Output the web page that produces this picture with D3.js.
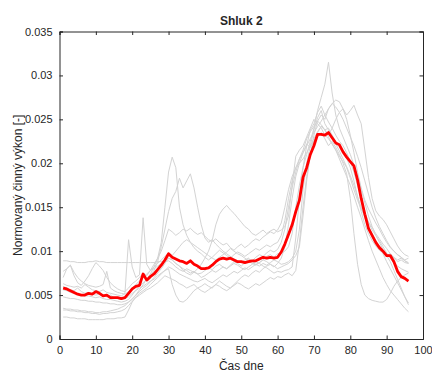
<!DOCTYPE html>
<html>
<head>
<meta charset="utf-8">
<script src="https://cdn.jsdelivr.net/npm/d3@7"></script>
<style>
  html, body { margin: 0; padding: 0; background: #fff; }
  svg { display: block; }
  text { font-family: "Liberation Sans", Arial, Helvetica, sans-serif; fill: #262626; }
</style>
</head>
<body>
<svg id="chart" width="432" height="374"></svg>
<script>
// Axis ticks
const xTicks = [0, 10, 20, 30, 40, 50, 60, 70, 80, 90, 100];
const yTicks = [0, 0.005, 0.01, 0.015, 0.02, 0.025, 0.03, 0.035];
const yTickLabels = ["0", "0.005", "0.01", "0.015", "0.02", "0.025", "0.03", "0.035"];

// Individual daily profiles in the cluster (96 quarter-hour samples each)
const day1 = [0.0089,0.0089,0.0088,0.0088,0.0087,0.0087,0.0087,0.0088,0.0088,0.0089,0.0088,0.0088,0.0087,0.0087,0.0087,0.0087,0.0087,0.0087,0.0087,0.0087,0.0087,0.0087,
  0.0087,0.0087,0.0087,0.0087,0.0088,0.0088,0.0088,0.0089,
  0.0086,0.0082,0.0079,0.0077,0.0080,0.0078,0.0076,0.0074,0.0075,0.0078,0.0081,0.0079,0.0083,0.0085,0.0082,0.0080,0.0084,0.0088,0.0086,0.0083,0.0087,0.0091,0.0089,0.0093,0.0096,0.0094,0.0098,0.0101,0.0099,0.0102,
  0.0110,0.0125,0.0150,0.0172,0.0190,0.0205,0.0215,0.0228,0.0236,0.0242,0.0248,0.0244,0.0238,0.0240,0.0232,0.0225,0.0220,0.0214,0.0206,0.0195,0.0180,0.0162,0.0145,0.0130,0.0120,0.0112,0.0106,0.0101,0.0098,0.0095,0.0097,0.0092,0.0088,0.0090,0.0087,0.0086];
const day2 = [0.0077,0.0080,0.0084,0.0072,0.0064,0.0061,0.0066,0.0072,0.0080,0.0087,0.0083,0.0078,0.0070,0.0064,0.0060,0.0057,0.0055,0.0054,0.0058,0.0063,
  0.0066,0.0070,0.0075,0.0072,0.0078,0.0085,0.0092,0.0100,0.0112,0.0125,
  0.0122,0.0118,0.0121,0.0125,0.0123,0.0126,0.0122,0.0119,0.0121,0.0117,0.0113,0.0111,0.0114,0.0110,0.0107,0.0109,0.0104,0.0101,0.0105,0.0108,0.0104,0.0107,0.0111,0.0114,0.0112,0.0116,0.0119,0.0122,0.0120,0.0124,
  0.0132,0.0150,0.0170,0.0185,0.0195,0.0200,0.0205,0.0212,0.0220,0.0228,0.0236,0.0242,0.0238,0.0232,0.0240,0.0250,0.0258,0.0262,0.0255,0.0260,0.0266,0.0255,0.0245,0.0215,0.0184,0.0160,0.0146,0.0140,0.0136,0.0130,0.0122,0.0114,0.0106,0.0100,0.0096,0.0094];
const day3 = [0.0063,0.0061,0.0060,0.0059,0.0060,0.0058,0.0062,0.0059,0.0056,0.0055,0.0054,0.0056,0.0053,0.0052,0.0051,0.0050,0.0049,0.0052,
  0.0113,0.0082,0.0070,0.0073,0.0138,0.0085,0.0078,0.0080,0.0083,0.0086,0.0089,0.0092,
  0.0090,0.0086,0.0083,0.0080,0.0078,0.0075,0.0077,0.0074,0.0070,0.0072,0.0075,0.0078,0.0076,0.0079,0.0082,0.0080,0.0083,0.0086,0.0084,0.0081,0.0079,0.0082,0.0085,0.0088,0.0086,0.0083,0.0081,0.0078,0.0075,0.0077,
  0.0076,0.0078,0.0079,0.0082,0.0115,0.0160,0.0195,0.0220,0.0238,0.0245,0.0258,0.0265,0.0255,0.0247,0.0240,0.0232,0.0225,0.0220,0.0212,0.0202,0.0190,0.0175,0.0160,0.0145,0.0133,0.0124,0.0118,0.0112,0.0105,0.0098,0.0092,0.0087,0.0083,0.0080,0.0078,0.0076];
const day4 = [0.0035,0.0034,0.0034,0.0033,0.0033,0.0032,0.0032,0.0031,0.0031,0.0030,0.0030,0.0031,0.0031,0.0032,0.0033,0.0034,0.0036,0.0038,
  0.0042,0.0045,0.0050,0.0056,0.0062,0.0068,0.0074,0.0082,0.0092,0.0110,0.0150,0.0190,
  0.0207,0.0195,0.0150,0.0130,0.0118,0.0110,0.0104,0.0100,0.0097,0.0093,0.0090,0.0093,0.0097,0.0101,0.0098,0.0095,0.0092,0.0096,0.0099,0.0097,0.0094,0.0097,0.0100,0.0103,0.0101,0.0104,0.0107,0.0105,0.0108,0.0110,
  0.0118,0.0135,0.0160,0.0180,0.0195,0.0205,0.0212,0.0220,0.0228,0.0235,0.0242,0.0248,0.0255,0.0262,0.0268,0.0272,0.0270,0.0262,0.0250,0.0232,0.0212,0.0190,0.0172,0.0158,0.0148,0.0140,0.0132,0.0125,0.0117,0.0110,0.0104,0.0100,0.0096,0.0093,0.0089,0.0086];
const day5 = [0.0056,0.0055,0.0053,0.0052,0.0051,0.0050,0.0049,0.0049,0.0048,0.0047,0.0048,0.0046,0.0045,0.0045,0.0044,0.0043,0.0042,0.0043,0.0045,0.0050,
  0.0056,0.0060,0.0064,0.0068,0.0072,0.0078,0.0088,0.0105,0.0125,0.0145,
  0.0160,0.0168,0.0183,0.0172,0.0180,0.0188,0.0172,0.0150,0.0130,0.0115,0.0110,0.0113,0.0108,0.0104,0.0100,0.0097,0.0094,0.0091,0.0089,0.0087,0.0090,0.0092,0.0088,0.0085,0.0087,0.0090,0.0094,0.0096,0.0093,0.0097,
  0.0098,0.0100,0.0105,0.0120,0.0150,0.0175,0.0195,0.0210,0.0225,0.0240,0.0260,0.0275,0.0290,0.0315,0.0280,0.0255,0.0240,0.0230,0.0220,0.0210,0.0198,0.0185,0.0170,0.0155,0.0140,0.0128,0.0118,0.0110,0.0102,0.0095,0.0088,0.0078,0.0068,0.0058,0.0048,0.0039];
const day6 = [0.0048,0.0047,0.0046,0.0046,0.0045,0.0044,0.0044,0.0043,0.0043,0.0042,0.0042,0.0041,0.0041,0.0040,0.0040,0.0039,0.0039,0.0040,0.0042,0.0046,
  0.0050,0.0054,0.0058,0.0061,0.0065,0.0070,0.0075,0.0080,0.0086,0.0092,
  0.0090,0.0086,0.0083,0.0078,0.0075,0.0073,0.0076,0.0080,0.0085,0.0092,0.0100,0.0112,0.0130,0.0142,0.0148,0.0152,0.0147,0.0143,0.0138,0.0133,0.0128,0.0125,0.0120,0.0118,0.0121,0.0124,0.0120,0.0123,0.0125,0.0122,
  0.0124,0.0128,0.0140,0.0175,0.0208,0.0215,0.0220,0.0230,0.0240,0.0250,0.0245,0.0240,0.0232,0.0228,0.0222,0.0215,0.0208,0.0202,0.0195,0.0183,0.0170,0.0158,0.0148,0.0140,0.0133,0.0127,0.0120,0.0114,0.0108,0.0103,0.0097,0.0093,0.0090,0.0092,0.0089,0.0087];
const day7 = [0.0025,0.0025,0.0024,0.0024,0.0023,0.0023,0.0023,0.0022,0.0022,0.0022,0.0022,0.0022,0.0023,0.0023,0.0023,0.0024,0.0024,0.0025,
  0.0033,0.0042,0.0048,0.0052,0.0055,0.0058,0.0062,0.0066,0.0070,0.0074,0.0078,0.0080,
  0.0062,0.0050,0.0043,0.0042,0.0045,0.0050,0.0055,0.0058,0.0060,0.0063,0.0060,0.0058,0.0062,0.0066,0.0063,0.0060,0.0058,0.0061,0.0064,0.0062,0.0059,0.0057,0.0060,0.0063,0.0061,0.0064,0.0067,0.0070,0.0068,0.0071,
  0.0070,0.0073,0.0075,0.0072,0.0078,0.0110,0.0150,0.0185,0.0210,0.0225,0.0235,0.0242,0.0238,0.0230,0.0222,0.0215,0.0205,0.0195,0.0185,0.0175,0.0163,0.0150,0.0138,0.0125,0.0112,0.0100,0.0090,0.0080,0.0070,0.0062,0.0055,0.0050,0.0045,0.0040,0.0035,0.0031];
const day8 = [0.0033,0.0033,0.0032,0.0032,0.0031,0.0031,0.0030,0.0030,0.0029,0.0029,0.0028,0.0029,0.0029,0.0030,0.0030,0.0031,0.0032,0.0034,
  0.0038,0.0043,0.0047,0.0050,0.0053,0.0056,0.0058,0.0061,0.0064,0.0068,0.0072,0.0070,
  0.0068,0.0066,0.0063,0.0061,0.0058,0.0060,0.0062,0.0058,0.0055,0.0053,0.0056,0.0059,0.0062,0.0060,0.0057,0.0055,0.0058,0.0062,0.0066,0.0070,0.0073,0.0071,0.0075,0.0078,0.0076,0.0080,0.0083,0.0085,0.0082,0.0086,
  0.0092,0.0105,0.0130,0.0160,0.0185,0.0200,0.0212,0.0222,0.0218,0.0225,0.0230,0.0235,0.0228,0.0220,
  0.0225,0.0218,0.0210,0.0200,0.0188,0.0160,0.0120,0.0085,0.0062,0.0050,0.0046,0.0044,0.0043,0.0042,0.0042,0.0045,0.0052,0.0060,0.0066,0.0070,0.0073,0.0075];
const day9 = [0.0070,0.0080,0.0084,0.0076,0.0070,0.0066,0.0063,0.0061,0.0060,0.0059,0.0060,0.0062,0.0077,0.0058,0.0055,0.0053,0.0052,0.0051,0.0054,0.0058,
  0.0062,0.0066,0.0070,0.0074,0.0078,0.0082,0.0086,0.0090,0.0094,0.0098,
  0.0095,0.0100,0.0105,0.0110,0.0113,0.0110,0.0107,0.0104,0.0101,0.0098,0.0095,0.0092,0.0090,0.0093,0.0096,0.0099,0.0103,0.0100,0.0097,0.0095,0.0092,0.0089,0.0086,0.0084,0.0087,0.0090,0.0088,0.0085,0.0083,0.0080,
  0.0082,0.0084,0.0086,0.0090,0.0095,0.0105,0.0140,0.0180,0.0210,0.0232,0.0248,0.0255,0.0250,0.0262,0.0268,0.0264,0.0258,0.0250,0.0240,0.0230,0.0220,0.0208,0.0195,0.0180,0.0165,0.0150,0.0138,0.0128,0.0120,0.0112,0.0105,0.0100,0.0096,0.0093,0.0090,0.0092];
const day10 = [0.0060,0.0058,0.0056,0.0055,0.0058,0.0054,0.0052,0.0053,0.0051,0.0050,0.0051,0.0049,0.0048,0.0050,0.0047,0.0046,0.0045,0.0046,0.0048,0.0052,
  0.0055,0.0058,0.0060,0.0063,0.0066,0.0068,0.0072,0.0075,0.0078,0.0082,
  0.0080,0.0077,0.0074,0.0072,0.0070,0.0068,0.0066,0.0065,0.0067,0.0069,0.0066,0.0064,0.0067,0.0070,0.0073,0.0071,0.0074,0.0077,0.0075,0.0078,0.0081,0.0079,0.0082,0.0085,0.0083,0.0086,0.0084,0.0087,0.0090,0.0088,
  0.0085,0.0086,0.0088,0.0092,0.0100,0.0125,0.0170,0.0200,0.0220,0.0238,0.0252,0.0260,0.0245,0.0238,0.0230,0.0222,0.0214,0.0205,0.0196,0.0186,0.0175,0.0162,0.0150,0.0138,0.0128,0.0120,0.0112,0.0105,0.0097,0.0088,0.0080,0.0072,0.0064,0.0056,0.0048,0.0041];

// Cluster centroid
const centroid = [0.0058,0.0057,0.0055,0.0053,0.0051,0.0050,0.0050,0.0052,0.0051,0.0054,0.0052,0.0049,0.0050,0.0047,0.0047,0.0047,0.0046,0.0047,0.0052,0.0057,
  0.0060,0.0061,0.0074,0.0067,0.0071,0.0074,0.0079,0.0084,0.0090,0.0097,
  0.0093,0.0091,0.0089,0.0088,0.0086,0.0089,0.0085,0.0083,0.0080,0.0080,0.0081,0.0084,0.0088,0.0091,0.0092,0.0091,0.0092,0.0090,0.0088,0.0088,
  0.0087,0.0088,0.0089,0.0089,0.0091,0.0093,0.0092,0.0093,0.0092,0.0093,
  0.0099,0.0108,0.0119,0.0130,0.0145,0.0158,0.0184,0.0195,0.0210,0.0220,0.0233,0.0233,0.0232,0.0235,0.0229,0.0223,0.0221,0.0213,0.0207,0.0202,
  0.0197,0.0181,0.0160,0.0142,0.0126,0.0118,0.0110,0.0104,0.0100,0.0095,0.0095,0.0088,0.0077,0.0071,0.0069,0.0066];

const days = [day1, day2, day3, day4, day5, day6, day7, day8, day9, day10];

const svg = d3.select("#chart");
const margin = { left: 59.5, right: 9, top: 31.5, bottom: 35 };
const W = 432, H = 374;

const x = d3.scaleLinear().domain([0, 100]).range([margin.left, W - margin.right]);
const y = d3.scaleLinear().domain([0, 0.035]).range([H - margin.bottom, margin.top]);

const line = d3.line()
  .x((d, i) => x(i + 1))
  .y(d => y(d));

// Grey individual days
svg.append("g")
  .selectAll("path")
  .data(days)
  .join("path")
  .attr("d", line)
  .attr("fill", "none")
  .attr("stroke", "#d3d3d3")
  .attr("stroke-width", 1)
  .attr("stroke-linejoin", "round");

// Red centroid
svg.append("path")
  .datum(centroid)
  .attr("d", line)
  .attr("fill", "none")
  .attr("stroke", "#ff0000")
  .attr("stroke-width", 2.8)
  .attr("stroke-linejoin", "round");

// Axes (ticks pointing inwards, box around plot)
const tickLen = 3.5;
const axisColor = "#262626";

const xAxisB = d3.axisBottom(x).tickValues(xTicks).tickSize(-tickLen).tickPadding(7);
const xAxisT = d3.axisTop(x).tickValues(xTicks).tickSize(-tickLen).tickFormat("");
const yAxisL = d3.axisLeft(y).tickValues(yTicks).tickSize(-tickLen).tickPadding(7)
  .tickFormat((d, i) => yTickLabels[i]);
const yAxisR = d3.axisRight(y).tickValues(yTicks).tickSize(-tickLen).tickFormat("");

function style(g) {
  g.selectAll(".domain").attr("stroke", axisColor).attr("stroke-width", 1);
  g.selectAll(".tick line").attr("stroke", axisColor).attr("stroke-width", 1);
  g.selectAll(".tick text")
    .attr("fill", axisColor)
    .style("font-family", '"Liberation Sans", Arial, sans-serif')
    .style("font-size", "11px");
}

svg.append("g").attr("transform", `translate(0,${y(0)})`).call(xAxisB).call(style);
svg.append("g").attr("transform", `translate(0,${y(0.035)})`).call(xAxisT).call(style);
svg.append("g").attr("transform", `translate(${x(0)},0)`).call(yAxisL).call(style);
svg.append("g").attr("transform", `translate(${x(100)},0)`).call(yAxisR).call(style);

// Title and axis labels
svg.append("text")
  .attr("x", (x(0) + x(100)) / 2)
  .attr("y", 25)
  .attr("text-anchor", "middle")
  .style("font-size", "12px")
  .style("font-weight", "bold")
  .attr("fill", "#000")
  .text("Shluk 2");

svg.append("text")
  .attr("x", (x(0) + x(100)) / 2)
  .attr("y", 370)
  .attr("text-anchor", "middle")
  .style("font-size", "12px")
  .text("Čas dne");

svg.append("text")
  .attr("transform", `translate(22,${(y(0) + y(0.035)) / 2}) rotate(-90)`)
  .attr("text-anchor", "middle")
  .style("font-size", "12px")
  .text("Normovaný činný výkon [-]");
</script>
</body>
</html>
